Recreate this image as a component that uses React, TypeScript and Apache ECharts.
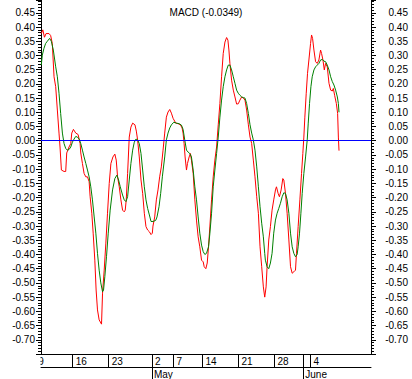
import React, { useEffect, useRef } from "react";
import * as echarts from "echarts";

// MACD line (red) as [trading-day index, value]
const macdPoints: [number, number][] = [
  [0.64, 0.377], [0.85, 0.39], [1.08, 0.364], [1.3, 0.377], [1.71, 0.377], [1.94, 0.37], [2.17, 0.342],
  [2.41, 0.225], [2.64, 0.19], [2.87, 0.108], [3.1, 0.027], [3.24, -0.022], [3.43, -0.103], [3.8, -0.108],
  [4.03, -0.108], [4.17, -0.043], [4.49, -0.022], [4.73, -0.01], [4.87, 0.027], [5.1, 0.04], [5.42, 0.027],
  [5.75, 0.022], [6.03, -0.01], [6.12, -0.043], [6.35, -0.08], [6.58, -0.115], [6.82, -0.127], [7.05, -0.127],
  [7.28, -0.144], [7.42, -0.197], [7.65, -0.255], [7.84, -0.325], [8.07, -0.42], [8.25, -0.525], [8.44, -0.595],
  [8.67, -0.63], [9.0, -0.645], [9.14, -0.536], [9.37, -0.455], [9.6, -0.36], [9.83, -0.255], [10.07, -0.15],
  [10.3, -0.08], [10.58, -0.057], [10.85, -0.047], [11.04, -0.068], [11.23, -0.127], [11.46, -0.162],
  [11.69, -0.208], [11.92, -0.244], [12.15, -0.25], [12.29, -0.244], [12.43, -0.208], [12.62, -0.115],
  [12.85, 0.013], [13.08, 0.048], [13.32, 0.062], [13.64, 0.056], [13.83, 0.034], [14.01, 0.003],
  [14.24, -0.057], [14.48, -0.138], [14.71, -0.185], [14.94, -0.255], [15.17, -0.302], [15.4, -0.314],
  [15.64, -0.32], [15.87, -0.33], [16.05, -0.325], [16.14, -0.3], [16.38, -0.268], [16.61, -0.208],
  [16.84, -0.173], [17.07, -0.127], [17.3, -0.092], [17.54, -0.033], [17.77, 0.027], [18.0, 0.083],
  [18.23, 0.101], [18.47, 0.11], [18.7, 0.097], [18.93, 0.079], [19.3, 0.062], [19.63, 0.06], [19.95, 0.056],
  [20.18, 0.045], [20.32, 0.027], [20.46, -0.01], [20.6, -0.057], [20.79, -0.103], [20.93, -0.08],
  [21.16, -0.057], [21.34, -0.045], [21.48, -0.068], [21.72, -0.115], [21.95, -0.208], [22.18, -0.279],
  [22.41, -0.338], [22.64, -0.373], [22.88, -0.42], [23.11, -0.426], [23.25, -0.443], [23.48, -0.45],
  [23.67, -0.43], [23.85, -0.373], [24.04, -0.3], [24.27, -0.208], [24.5, -0.127], [24.73, -0.068],
  [24.97, -0.022], [25.2, 0.056], [25.43, 0.131], [25.66, 0.225], [25.89, 0.307], [26.13, 0.347],
  [26.36, 0.363], [26.54, 0.354], [26.68, 0.319], [26.82, 0.272], [27.05, 0.213], [27.29, 0.178],
  [27.52, 0.154], [27.75, 0.129], [27.98, 0.13], [28.21, 0.143], [28.45, 0.154], [28.68, 0.15],
  [28.91, 0.143], [29.14, 0.108], [29.38, 0.056], [29.61, 0.013], [29.84, -0.01], [30.07, -0.068],
  [30.3, -0.127], [30.54, -0.197], [30.77, -0.255], [31.0, -0.373], [31.23, -0.443], [31.46, -0.514],
  [31.65, -0.55], [31.84, -0.514], [31.98, -0.443], [32.21, -0.349], [32.44, -0.302], [32.67, -0.244],
  [32.9, -0.208], [33.14, -0.173], [33.28, -0.162], [33.51, -0.185], [33.69, -0.197], [33.93, -0.173],
  [34.16, -0.133], [34.3, -0.138], [34.53, -0.185], [34.76, -0.255], [35.0, -0.349], [35.23, -0.443],
  [35.46, -0.466], [35.69, -0.461], [35.92, -0.455], [36.06, -0.396], [36.29, -0.302], [36.53, -0.208],
  [36.76, -0.115], [36.94, -0.045], [37.08, 0.013], [37.22, 0.083], [37.41, 0.167], [37.59, 0.237],
  [37.78, 0.284], [38.01, 0.342], [38.15, 0.372], [38.29, 0.36], [38.48, 0.319], [38.71, 0.278],
  [38.94, 0.272], [39.17, 0.284], [39.4, 0.319], [39.54, 0.307], [39.73, 0.284], [39.92, 0.249],
  [40.1, 0.272], [40.33, 0.26], [40.57, 0.202], [40.8, 0.178], [41.03, 0.175], [41.17, 0.184],
  [41.35, 0.16], [41.59, 0.131], [41.77, 0.096], [41.87, 0.013], [41.96, -0.0349],
];

// Signal line (green)
const signalPoints: [number, number][] = [
  [0.64, 0.266], [0.78, 0.301], [1.01, 0.325], [1.24, 0.342], [1.48, 0.35], [1.8, 0.36], [2.03, 0.35],
  [2.31, 0.319], [2.64, 0.26], [2.87, 0.225], [3.1, 0.167], [3.33, 0.096], [3.57, 0.027], [3.8, -0.01],
  [4.03, -0.027], [4.26, -0.033], [4.49, -0.031], [4.73, -0.022], [4.96, -0.005], [5.19, 0.006],
  [5.42, 0.015], [5.66, 0.013], [5.89, 0.006], [6.12, -0.01], [6.35, -0.033], [6.58, -0.057], [6.82, -0.08],
  [7.05, -0.103], [7.28, -0.127], [7.51, -0.162], [7.74, -0.208], [7.98, -0.268], [8.21, -0.325],
  [8.44, -0.396], [8.67, -0.455], [8.9, -0.5], [9.14, -0.531], [9.28, -0.525], [9.46, -0.478],
  [9.69, -0.408], [9.93, -0.325], [10.2, -0.244], [10.53, -0.173], [10.85, -0.133], [11.13, -0.121],
  [11.37, -0.138], [11.6, -0.162], [11.92, -0.191], [12.15, -0.208], [12.39, -0.214], [12.62, -0.197],
  [12.85, -0.138], [13.08, -0.08], [13.32, -0.033], [13.55, -0.005], [13.78, 0.006], [14.01, 0.003],
  [14.24, -0.01], [14.48, -0.045], [14.71, -0.103], [14.94, -0.162], [15.17, -0.208], [15.4, -0.238],
  [15.64, -0.261], [15.87, -0.284], [16.14, -0.284], [16.52, -0.28], [16.7, -0.268], [16.98, -0.232],
  [17.21, -0.185], [17.44, -0.127], [17.77, -0.057], [18.0, 0.003], [18.23, 0.027], [18.47, 0.045],
  [18.7, 0.056], [19.02, 0.065], [19.4, 0.062], [19.77, 0.06], [20.09, 0.055], [20.32, 0.04], [20.55, 0.003],
  [20.79, -0.033], [21.02, -0.04], [21.25, -0.045], [21.48, -0.057], [21.72, -0.103], [21.95, -0.162],
  [22.18, -0.208], [22.41, -0.268], [22.64, -0.325], [22.88, -0.367], [23.11, -0.39], [23.34, -0.4],
  [23.57, -0.396], [23.85, -0.373], [24.04, -0.325], [24.27, -0.255], [24.5, -0.162], [24.73, -0.103],
  [24.97, -0.045], [25.2, 0.013], [25.43, 0.083], [25.66, 0.143], [25.89, 0.19], [26.13, 0.225],
  [26.36, 0.249], [26.59, 0.266], [26.82, 0.266], [27.05, 0.249], [27.29, 0.225], [27.52, 0.202],
  [27.75, 0.178], [27.98, 0.167], [28.21, 0.16], [28.45, 0.154], [28.68, 0.152], [28.91, 0.15],
  [29.14, 0.131], [29.38, 0.096], [29.61, 0.056], [29.84, 0.027], [30.07, 0.003], [30.3, -0.033],
  [30.54, -0.092], [30.77, -0.162], [31.0, -0.232], [31.23, -0.29], [31.46, -0.338], [31.65, -0.396],
  [31.74, -0.42], [31.98, -0.443], [32.21, -0.45], [32.44, -0.43], [32.67, -0.396], [32.9, -0.325],
  [33.14, -0.279], [33.37, -0.255], [33.6, -0.238], [33.83, -0.22], [34.07, -0.197], [34.3, -0.183],
  [34.53, -0.185], [34.76, -0.208], [35.0, -0.255], [35.23, -0.325], [35.46, -0.373], [35.69, -0.396],
  [35.92, -0.408], [36.15, -0.4], [36.29, -0.373], [36.48, -0.325], [36.67, -0.255], [36.85, -0.185],
  [37.08, -0.115], [37.32, -0.057], [37.55, 0.003], [37.69, 0.062], [37.87, 0.131], [38.06, 0.19],
  [38.24, 0.225], [38.48, 0.249], [38.71, 0.26], [38.94, 0.266], [39.17, 0.272], [39.4, 0.284],
  [39.64, 0.286], [39.87, 0.28], [40.1, 0.278], [40.33, 0.266], [40.57, 0.249], [40.8, 0.225],
  [41.03, 0.208], [41.26, 0.196], [41.49, 0.178], [41.73, 0.154], [41.87, 0.131], [41.96, 0.1],
];

// x axis: trading-day index of week/month boundaries
const dayTickDays = [0, 5, 10, 16, 19, 23, 28, 33, 37, 38];
const dayTickLabels = ["9", "16", "23", "2", "7", "14", "21", "28", "", "4"];
const monthTickDays = [16, 37];
const monthLabels = ["May", "June"];

const xMin = 0.6;
const xMax = 46.4;
const yMin = -0.75;
const yMax = 0.495;
const yStep = 0.05;

const FONT = '"Liberation Sans", Arial, sans-serif';

export default function App() {
  const ref = useRef<HTMLDivElement>(null);

  useEffect(() => {
    document.body.style.margin = "0";
    if (!ref.current) return;
    const chart = echarts.init(ref.current, undefined, { renderer: "svg" });

    const inRange = (d: number) => d >= xMin && d <= xMax;
    const dayLabelFor = (v: number) => {
      const i = dayTickDays.findIndex((d) => Math.abs(d - v) < 1e-6);
      return i >= 0 ? dayTickLabels[i] : "";
    };
    const monthLabelFor = (v: number) => {
      const i = monthTickDays.findIndex((d) => Math.abs(d - v) < 1e-6);
      return i >= 0 ? monthLabels[i] : "";
    };
    const yFmt = (v: number) => (Math.abs(v) < 1e-9 ? "0.00" : v.toFixed(2));

    const yAxisBase = {
      type: "value",
      min: yMin,
      max: yMax,
      interval: yStep,
      axisLine: { show: true, onZero: false, lineStyle: { color: "#000", width: 1 } },
      axisTick: { show: true, length: 5, lineStyle: { color: "#000" } },
      minorTick: { show: true, splitNumber: 5, length: 3, lineStyle: { color: "#000" } },
      splitLine: { show: false },
    };

    chart.setOption({
      animation: false,
      backgroundColor: "#ffffff",
      textStyle: { fontFamily: FONT },
      title: {
        text: "MACD (-0.0349)",
        left: "center",
        top: 2,
        textStyle: { fontSize: 10, fontWeight: "normal", color: "#000", fontFamily: FONT },
      },
      grid: { left: 41, right: 41, top: 0, bottom: 25, containLabel: false },
      xAxis: [
        {
          type: "value",
          min: xMin,
          max: xMax,
          position: "bottom",
          axisLine: { show: true, onZero: false, lineStyle: { color: "#000", width: 1 } },
          axisTick: {
            show: true,
            length: 13,
            customValues: dayTickDays.filter(inRange),
            lineStyle: { color: "#000" },
          },
          axisLabel: {
            show: true,
            customValues: dayTickDays.filter((d, i) => inRange(d) && dayTickLabels[i] !== ""),
            formatter: (v: number) => dayLabelFor(v),
            align: "left",
            padding: [0, 0, 0, 3],
            margin: 2,
            fontSize: 10,
            color: "#000",
            fontFamily: FONT,
          },
          splitLine: { show: false },
        },
        {
          type: "value",
          min: xMin,
          max: xMax,
          position: "bottom",
          offset: 13,
          axisLine: { show: true, onZero: false, lineStyle: { color: "#000", width: 1 } },
          axisTick: {
            show: true,
            length: 12,
            customValues: monthTickDays,
            lineStyle: { color: "#000" },
          },
          axisLabel: {
            show: true,
            customValues: monthTickDays,
            formatter: (v: number) => monthLabelFor(v),
            align: "left",
            padding: [0, 0, 0, 2],
            margin: 2,
            fontSize: 10,
            color: "#000",
            fontFamily: FONT,
          },
          splitLine: { show: false },
        },
      ],
      yAxis: [
        {
          ...yAxisBase,
          position: "left",
          axisLabel: {
            formatter: yFmt,
            showMinLabel: false,
            showMaxLabel: false,
            margin: 6,
            fontSize: 10,
            color: "#000",
            fontFamily: FONT,
          },
        },
        {
          ...yAxisBase,
          position: "right",
          axisLabel: {
            formatter: yFmt,
            showMinLabel: false,
            showMaxLabel: false,
            align: "right",
            margin: 37,
            fontSize: 10,
            color: "#000",
            fontFamily: FONT,
          },
        },
      ],
      series: [
        {
          name: "MACD",
          type: "line",
          xAxisIndex: 0,
          yAxisIndex: 0,
          data: macdPoints,
          showSymbol: false,
          symbol: "none",
          lineStyle: { color: "#ff0000", width: 1 },
          markLine: {
            silent: true,
            symbol: "none",
            label: { show: false },
            lineStyle: { color: "#0000ff", width: 1, type: "solid" },
            data: [{ yAxis: 0 }],
          },
        },
        {
          name: "Signal",
          type: "line",
          xAxisIndex: 0,
          yAxisIndex: 0,
          data: signalPoints,
          showSymbol: false,
          symbol: "none",
          lineStyle: { color: "#008000", width: 1 },
        },
      ],
    });

    // first week label lies left of the plot start: place it from the axis scale, clipped at the plot edge
    const firstX = chart.convertToPixel({ xAxisIndex: 0 }, dayTickDays[0]) as number;
    chart.setOption({
      graphic: [
        {
          type: "text",
          z: 50,
          x: firstX + 1.5,
          y: 356,
          style: { text: dayTickLabels[0], font: `10px ${FONT}`, fill: "#000", verticalAlign: "top" },
        },
        {
          type: "rect",
          z: 60,
          shape: { x: 0, y: 355, width: 40.5, height: 12 },
          style: { fill: "#ffffff" },
        },
      ],
    });

    return () => chart.dispose();
  }, []);

  return <div ref={ref} style={{ width: 412, height: 379 }} />;
}
